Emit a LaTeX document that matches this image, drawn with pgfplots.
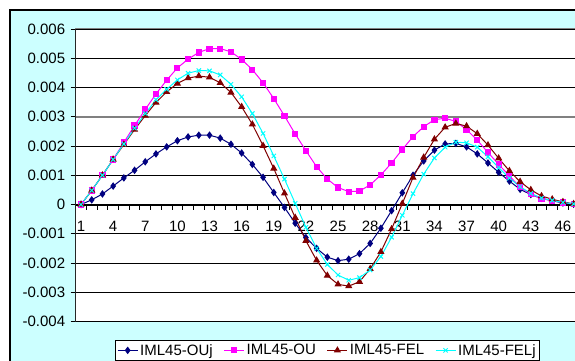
\documentclass[border=0pt]{standalone}
\usepackage{fontspec}
\setmainfont{Liberation Sans}
\usepackage{pgfplots}
\usepackage{pgfplotstable}
\pgfplotsset{compat=1.18}
\definecolor{chartbg}{HTML}{CCFFFF}
\definecolor{sOUj}{HTML}{000080}
\definecolor{sOU}{HTML}{FF00FF}
\definecolor{sFEL}{HTML}{800000}
\definecolor{sFELj}{HTML}{00FFFF}
\pgfplotstableread{
x ouj ou fel felj
1 0 0 0 0
2 0.00016 0.00048 0.00048 0.00048
3 0.00036 0.00100 0.00100 0.00100
4 0.00063 0.00154 0.00154 0.00154
5 0.00091 0.00212 0.00205 0.00207
6 0.00117 0.00270 0.00256 0.00261
7 0.00146 0.00325 0.00304 0.00311
8 0.00173 0.00378 0.00349 0.00358
9 0.00197 0.00425 0.00385 0.00394
10 0.00218 0.00467 0.00414 0.00426
11 0.00231 0.00497 0.00432 0.00449
12 0.00237 0.00520 0.00439 0.00458
13 0.00237 0.00533 0.00435 0.00457
14 0.00227 0.00533 0.00416 0.00443
15 0.00206 0.00522 0.00383 0.00411
16 0.00176 0.00496 0.00334 0.00368
17 0.00137 0.00461 0.00274 0.00311
18 0.00093 0.00416 0.00201 0.00243
19 0.00041 0.00362 0.00123 0.00166
20 -0.00010 0.00303 0.00038 0.00087
21 -0.00064 0.00241 -0.00045 0.00004
22 -0.00113 0.00184 -0.00124 -0.00078
23 -0.00150 0.00129 -0.00191 -0.00150
24 -0.00180 0.00087 -0.00243 -0.00205
25 -0.00192 0.00058 -0.00273 -0.00241
26 -0.00187 0.00044 -0.00279 -0.00259
27 -0.00168 0.00046 -0.00264 -0.00250
28 -0.00133 0.00067 -0.00220 -0.00224
29 -0.00081 0.00101 -0.00162 -0.00178
30 -0.00021 0.00142 -0.00084 -0.00112
31 0.00040 0.00188 0.00003 -0.00037
32 0.00100 0.00232 0.00092 0.00037
33 0.00149 0.00266 0.00161 0.00104
34 0.00186 0.00290 0.00223 0.00159
35 0.00207 0.00295 0.00264 0.00196
36 0.00209 0.00284 0.00277 0.00213
37 0.00197 0.00256 0.00268 0.00211
38 0.00173 0.00220 0.00242 0.00196
39 0.00142 0.00178 0.00203 0.00163
40 0.00110 0.00137 0.00158 0.00126
41 0.00080 0.00098 0.00115 0.00090
42 0.00052 0.00059 0.00078 0.00061
43 0.00034 0.00035 0.00050 0.00038
44 0.00021 0.00020 0.00029 0.00022
45 0.00013 0.00013 0.00018 0.00014
46 0.00005 0.00007 0.00009 0.00007
47 0.00001 0.00002 0.00002 0.00002
}\datatable
\begin{document}
\begin{tikzpicture}
\useasboundingbox (0pt,0pt) rectangle (575pt,360pt);
\clip (0pt,0pt) rectangle (575pt,360pt);
\fill[chartbg] (10pt,-10pt) rectangle (600pt,350pt);
\draw[black, line width=1.5pt] (10pt,-10pt) -- (10pt,350pt) -- (600pt,350pt);
\begin{axis}[
  at={(75.65pt,38.5pt)}, anchor=south west,
  scale only axis, width=503.35pt, height=292.5pt,
  xmin=0.5, xmax=47.5, ymin=-0.004, ymax=0.006,
  scaled y ticks=false,
  axis background/.style={fill=white, draw=gray, line width=1.5pt},
  axis x line*=middle, axis y line*=left,
  x axis line style={black, line width=2pt, -},
  y axis line style={black!85, line width=1.5pt, -},
  tick align=outside,
  major tick length=5pt, minor tick length=5pt,
  xtick={1,4,7,10,13,16,19,22,25,28,31,34,37,40,43,46},
  xticklabels={1,4,7,10,13,16,19,22,25,28,31,34,37,40,43,46},
  minor xtick={0.5,1.5,...,47.5},
  major x tick style={draw=none},
  minor x tick style={black, line width=1pt},
  ytick={-0.004,-0.003,-0.002,-0.001,0,0.001,0.002,0.003,0.004,0.005,0.006},
  yticklabels={-0.004,-0.003,-0.002,-0.001,0,0.001,0.002,0.003,0.004,0.005,0.006},
  major y tick style={black, line width=1pt},
  ymajorgrids, major grid style={black, line width=0.8pt},
  extra y ticks={0.003}, extra y tick labels={},
  extra y tick style={grid=major, major grid style={gray, line width=1.8pt}, major tick length=0pt},
  tick label style={font=\fontsize{15}{18}\selectfont},
  yticklabel style={xshift=-2pt},
  xticklabel style={yshift=-8pt},
  clip=false,
  legend style={at={(0.0782,-0.0632)}, anchor=north west, legend columns=4,
    draw=black, fill=white, inner sep=2pt,
    font=\fontsize{15}{18}\selectfont,
    /tikz/every even column/.append style={column sep=9pt}},
  legend image code/.code={\draw[mark repeat=2,mark phase=2] plot coordinates {(0pt,0pt)(10pt,0pt)(20pt,0pt)};},
]
\addplot[sOUj, line width=1pt, mark=diamond*, mark size=3pt, mark options={solid, fill=sOUj}] table[x=x,y=ouj] {\datatable};
\addlegendentry{IML45-OUj}
\addplot[sOU, line width=1pt, mark=square*, mark size=2.6pt, mark options={solid, fill=sOU}] table[x=x,y=ou] {\datatable};
\addlegendentry{IML45-OU}
\addplot[sFEL, line width=1pt, mark=triangle*, mark size=3.2pt, mark options={solid, fill=sFEL}] table[x=x,y=fel] {\datatable};
\addlegendentry{IML45-FEL}
\addplot[sFELj, line width=1pt, mark=x, mark size=3pt, mark options={solid}] table[x=x,y=felj] {\datatable};
\addlegendentry{IML45-FELj}
\end{axis}
\end{tikzpicture}
\end{document}
